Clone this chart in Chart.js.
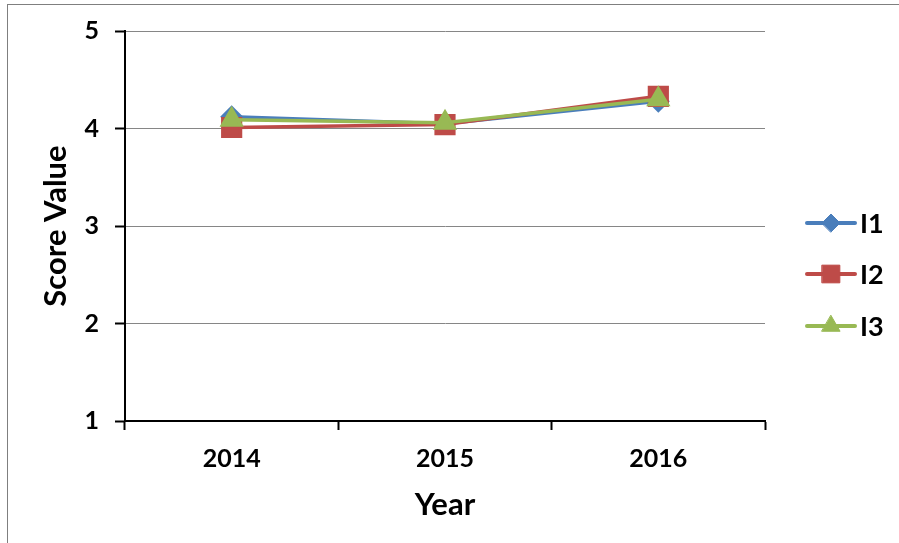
<!DOCTYPE html>
<html lang="en">
<head>
    <meta charset="UTF-8">
    <title>Score Value by Year</title>
    <script src="https://cdn.jsdelivr.net/npm/chart.js"></script>
    <style>
        body { margin: 0; background: #fff; }
        #wrap { width: 899px; height: 543px; position: relative; }
    </style>
</head>
<body>
    <div id="wrap"><canvas id="lineChart" width="899" height="543"></canvas></div>
    <script>
        // data
        const years = ["2014", "2015", "2016"];
        const i1 = [4.12, 4.05, 4.28];
        const i2 = [4.01, 4.04, 4.33];
        const i3 = [4.09, 4.06, 4.30];
        const seriesNames = ["I1", "I2", "I3"];
        const yTicks = [1, 2, 3, 4, 5];

        const fontFam = "Lato, 'Liberation Sans', sans-serif";

        // frame round the whole picture + legend on the right
        const extras = {
            id: "extras",
            afterDraw(chart) {
                const ctx = chart.ctx;
                ctx.save();
                ctx.strokeStyle = "#7f7f7f";
                ctx.lineWidth = 1;
                ctx.strokeRect(7.5, 4.5, 905, 560);

                const ys = [223, 274, 326];
                chart.data.datasets.forEach((ds, i) => {
                    const y = ys[i];
                    ctx.strokeStyle = ds.borderColor;
                    ctx.lineWidth = 4;
                    ctx.lineCap = "round";
                    ctx.beginPath();
                    ctx.moveTo(807, y);
                    ctx.lineTo(855, y);
                    ctx.stroke();
                    ctx.fillStyle = ds.backgroundColor;
                    ctx.lineWidth = 1;
                    Chart.helpers.drawPoint(ctx, {
                        pointStyle: ds.pointStyle,
                        radius: ds.pointRadius,
                        rotation: 0,
                        borderWidth: 1
                    }, 831, y);
                    ctx.fillStyle = "#000";
                    ctx.font = "bold 27px " + fontFam;
                    ctx.textAlign = "left";
                    ctx.textBaseline = "middle";
                    ctx.fillText(ds.label, 860, y + 1);
                });
                ctx.restore();
            }
        };

        const ctx = document.getElementById("lineChart").getContext("2d");
        new Chart(ctx, {
            type: "line",
            data: {
                labels: years,
                datasets: [
                    {
                        label: seriesNames[0],
                        data: i1,
                        order: 3,
                        borderColor: "#4A7EBB",
                        backgroundColor: "#4A7EBB",
                        pointStyle: "rectRot",
                        pointRadius: 9,
                        borderWidth: 3.5
                    },
                    {
                        label: seriesNames[1],
                        data: i2,
                        order: 2,
                        borderColor: "#BE4B48",
                        backgroundColor: "#BE4B48",
                        pointStyle: "rect",
                        pointRadius: 12.5,
                        borderWidth: 3.5
                    },
                    {
                        label: seriesNames[2],
                        data: i3,
                        order: 1,
                        borderColor: "#98B954",
                        backgroundColor: "#98B954",
                        pointStyle: "triangle",
                        pointRadius: 10.5,
                        borderWidth: 3.5
                    }
                ]
            },
            options: {
                responsive: false,
                animation: false,
                layout: { padding: { left: 0, top: 31, right: 134, bottom: 0 } },
                plugins: {
                    legend: { display: false },
                    tooltip: { enabled: false }
                },
                scales: {
                    x: {
                        offset: true,
                        grid: {
                            offset: true,
                            drawOnChartArea: false,
                            drawTicks: true,
                            tickLength: 9,
                            tickColor: "#000",
                            tickWidth: 2
                        },
                        border: { color: "#000", width: 2 },
                        ticks: {
                            color: "#000",
                            padding: 14,
                            font: { family: fontFam, size: 25, weight: "bold" }
                        },
                        title: {
                            display: true,
                            text: "Year",
                            color: "#000",
                            padding: { top: 0, bottom: 19 },
                            font: { family: fontFam, size: 31, weight: "bold" }
                        },
                        afterFit(scale) { scale.height = 122; }
                    },
                    y: {
                        min: 1,
                        max: 5,
                        afterBuildTicks(scale) {
                            scale.ticks = yTicks.map(v => ({ value: v }));
                        },
                        grid: {
                            color: "#868686",
                            lineWidth: 1,
                            drawTicks: true,
                            tickLength: 10,
                            tickColor: "#000",
                            tickWidth: 2
                        },
                        border: { color: "#000", width: 2 },
                        ticks: {
                            color: "#000",
                            padding: 16,
                            font: { family: fontFam, size: 25, weight: "bold" }
                        },
                        title: {
                            display: true,
                            text: "Score Value",
                            color: "#000",
                            padding: { top: 37, bottom: 0 },
                            font: { family: fontFam, size: 31, weight: "bold" }
                        },
                        afterFit(scale) { scale.width = 125; }
                    }
                }
            },
            plugins: [extras]
        });
    </script>
</body>
</html>
